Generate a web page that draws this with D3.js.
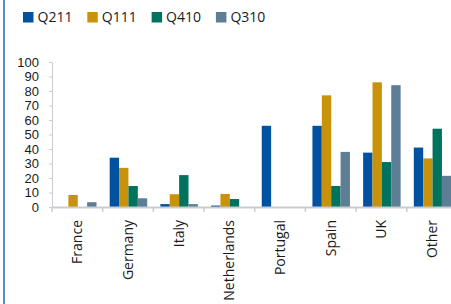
<!DOCTYPE html>
<html>
<head>
<meta charset="utf-8">
<script src="https://cdn.jsdelivr.net/npm/d3@7"></script>
<style>
    body { margin: 0; background: #fff; }
    svg { display: block; overflow: hidden; }
</style>
</head>
<body>
<div id="chart"></div>
<script>
// Data
const categories = ['France', 'Germany', 'Italy', 'Netherlands', 'Portugal', 'Spain', 'UK', 'Other'];
const seriesNames = ['Q211', 'Q111', 'Q410', 'Q310'];
const q211 = [0, 34, 2, 1, 56, 56, 37.5, 41];
const q111 = [8.3, 27, 8.8, 9, 0, 77, 86, 33.5];
const q410 = [0, 14.5, 22, 5.5, 0, 14.5, 31, 54];
const q310 = [3.3, 6, 2, 0, 0, 38, 84, 21.5];
const yTicks = [0, 10, 20, 30, 40, 50, 60, 70, 80, 90, 100];

const COLORS = ['#0052a0', '#c8930a', '#00735f', '#5d7e94'];
const WIDTH = 451, HEIGHT = 304;
const PLOT = { left: 52, right: 457.5, top: 62, bottom: 207 };

const values = [q211, q111, q410, q310];
const rows = categories.map((c, i) => ({
    category: c,
    values: seriesNames.map((s, j) => ({ series: s, value: values[j][i] }))
}));

const svg = d3.select('#chart').append('svg')
    .attr('width', WIDTH)
    .attr('height', HEIGHT);

// Left border
svg.append('line')
    .attr('x1', 4).attr('x2', 4)
    .attr('y1', 0).attr('y2', HEIGHT)
    .attr('stroke', '#2a62b0')
    .attr('stroke-width', 1.5);

// Scales
const x = d3.scaleBand()
    .domain(categories)
    .range([PLOT.left, PLOT.right])
    .padding(0);

const xInner = d3.scaleBand()
    .domain(seriesNames)
    .range([7, 44.5])
    .padding(0);

const y = d3.scaleLinear()
    .domain([0, 100])
    .range([PLOT.bottom, PLOT.top]);

const color = d3.scaleOrdinal().domain(seriesNames).range(COLORS);

// Y axis
const yAxis = svg.append('g')
    .attr('transform', `translate(${PLOT.left},0)`)
    .call(d3.axisLeft(y).tickValues(yTicks).tickSize(3).tickPadding(10));
yAxis.select('.domain').attr('stroke', '#c9ccd4');
yAxis.selectAll('.tick line').attr('stroke', '#c9ccd4');
yAxis.selectAll('text')
    .attr('fill', '#1a1a1a')
    .style('font-family', 'Liberation Sans, Arial, sans-serif')
    .style('font-size', '13px');

// Bars
const groups = svg.selectAll('g.group')
    .data(rows)
    .enter().append('g')
    .attr('class', 'group')
    .attr('transform', d => `translate(${x(d.category)},0)`);

groups.selectAll('rect')
    .data(d => d.values)
    .enter().append('rect')
    .attr('x', d => xInner(d.series))
    .attr('width', xInner.bandwidth())
    .attr('y', d => y(d.value))
    .attr('height', d => y(0) - y(d.value))
    .attr('fill', d => color(d.series));

// X axis
const xAxisLine = d3.axisBottom(x).tickSize(0).tickFormat('');
const xAxis = svg.append('g')
    .attr('transform', `translate(0,${PLOT.bottom})`)
    .call(xAxisLine);
xAxis.select('.domain').attr('stroke', '#c9ccd4').attr('stroke-width', 2);
xAxis.selectAll('.tick').remove();

// boundary ticks
xAxis.selectAll('line.sep')
    .data(categories)
    .enter().append('line')
    .attr('class', 'sep')
    .attr('x1', d => x(d)).attr('x2', d => x(d))
    .attr('y1', 0).attr('y2', 5)
    .attr('stroke', '#c9ccd4')
    .attr('stroke-width', 1.5);

xAxis.selectAll('text.lbl')
    .data(categories)
    .enter().append('text')
    .attr('class', 'lbl')
    .attr('transform', d => `translate(${x(d) + x.bandwidth() / 2},13) rotate(-90)`)
    .attr('text-anchor', 'end')
    .attr('dy', '0.35em')
    .attr('fill', '#1a1a1a')
    .style('font-family', 'Open Sans, sans-serif')
    .style('font-size', '14px')
    .text(d => d);

// Legend
const legend = svg.append('g')
    .attr('transform', 'translate(23,12)');

const items = legend.selectAll('g')
    .data(seriesNames)
    .enter().append('g')
    .attr('transform', (d, i) => `translate(${i * 64.3},0)`);

items.append('rect')
    .attr('width', 10.5)
    .attr('height', 10.5)
    .attr('fill', d => color(d));

items.append('text')
    .attr('x', 14.5)
    .attr('y', 9.5)
    .attr('fill', '#1a1a1a')
    .style('font-family', 'Open Sans, sans-serif')
    .style('font-size', '14px')
    .text(d => d);
</script>
</body>
</html>
